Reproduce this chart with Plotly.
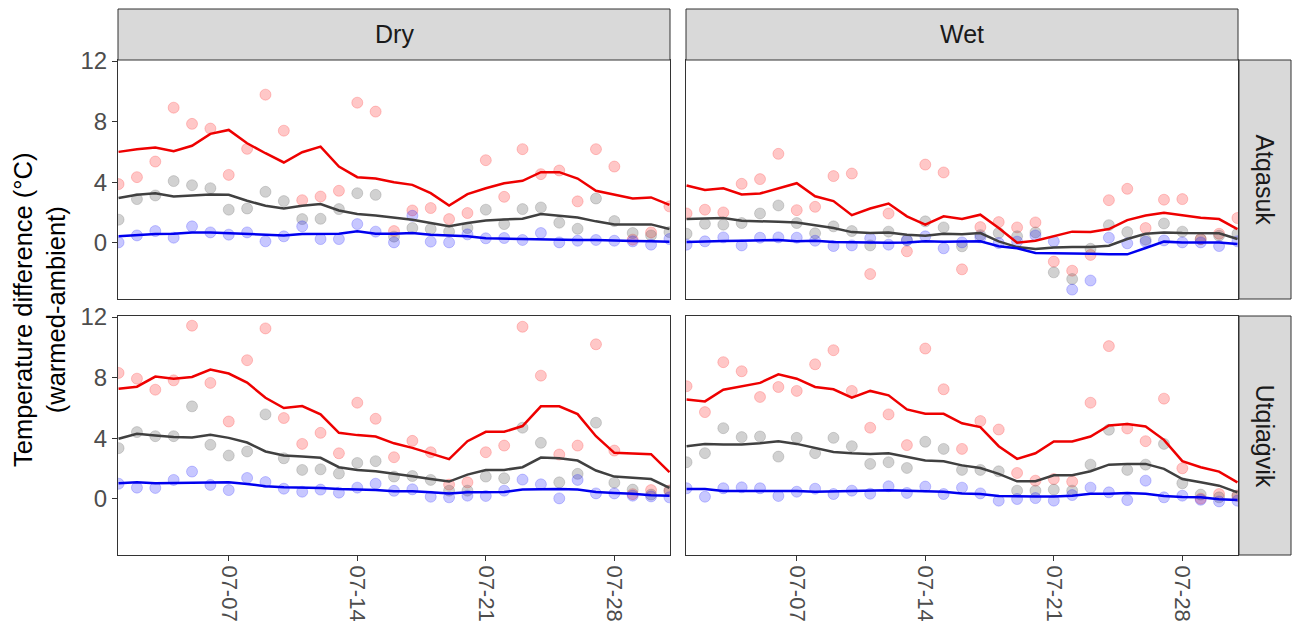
import plotly.graph_objects as go

# ---------------- data ----------------
days = ["2019-07-%02d" % d for d in range(1, 32)]
tick_dates = ["2019-07-07", "2019-07-14", "2019-07-21", "2019-07-28"]
tick_labels = ["07-07", "07-14", "07-21", "07-28"]
y_ticks = [0, 4, 8, 12]
treatments = ["Dry", "Wet"]
sites = ["Atqasuk", "Utqiaġvik"]

# Dry / Atqasuk
dry_atq_red_pts = [3.87, 4.33, 5.36, 8.92, 7.85, 7.54, 4.48, 6.2, 9.78, 7.4, 2.81, 3.05, 3.43, 9.25, 8.66, 0.77,
                   2.13, 2.29, 1.56, 1.96, 5.45, 3.03, 6.18, 4.53, 4.77, 2.73, 6.18, 5.03, 0.2, 0.68, 2.4]
dry_atq_gray_pts = [1.52, 2.88, 3.12, 4.07, 3.80, 3.6, 2.18, 2.26, 3.36, 2.75, 1.56, 1.58, 2.22, 3.27, 3.16, 0.4,
                    0.97, 0.9, 0.73, 0.97, 2.18, 1.23, 2.22, 2.33, 1.32, 0.92, 2.92, 1.43, 0.64, 0.48, 0.7]
dry_atq_blue_pts = [0.02, 0.48, 0.77, 0.33, 1.08, 0.68, 0.53, 0.68, 0.09, 0.42, 1.08, 0.24, 0.24, 1.23, 0.73, 0.02,
                    1.78, 0.07, 0.02, 0.55, 0.29, 0.31, 0.18, 0.64, 0.02, 0.13, 0.18, 0.13, 0.09, -0.13, 0.24]
dry_atq_red_line = [6.0, 6.18, 6.29, 6.04, 6.4, 7.19, 7.45, 6.57, 5.91, 5.3, 5.98, 6.35, 5.03, 4.33, 4.24, 4.0,
                    3.82, 3.27, 2.46, 3.21, 3.6, 3.93, 4.09, 4.66, 4.66, 4.24, 3.43, 3.16, 2.92, 2.99, 2.5]
dry_atq_gray_line = [2.95, 3.16, 3.27, 3.05, 3.12, 3.19, 3.16, 2.77, 2.44, 2.26, 2.44, 2.55, 2.13, 1.89, 1.8, 1.66,
                     1.52, 1.3, 1.08, 1.3, 1.47, 1.54, 1.58, 1.89, 1.78, 1.67, 1.41, 1.21, 1.21, 1.21, 0.9]
dry_atq_blue_line = [0.42, 0.5, 0.57, 0.59, 0.68, 0.68, 0.62, 0.59, 0.5, 0.48, 0.57, 0.57, 0.59, 0.75, 0.59, 0.59,
                     0.64, 0.53, 0.46, 0.42, 0.29, 0.26, 0.26, 0.24, 0.2, 0.18, 0.18, 0.13, 0.11, 0.09, 0.07]

# Wet / Atqasuk
wet_atq_red_pts = [1.93, 2.18, 2.0, 3.89, 4.2, 5.87, 2.15, 2.37, 4.4, 4.57, -2.07, 1.93, -0.57, 5.16, 4.64, -1.76,
                   1.03, 1.36, 1.01, 1.34, -1.25, -1.85, -0.81, 2.81, 3.56, 0.97, 2.84, 2.88, 0.24, 0.59, 1.63]
wet_atq_gray_pts = [0.59, 1.25, 1.19, 1.3, 1.93, 2.46, 1.3, 0.62, 1.08, 0.77, -0.18, 0.73, 0.18, 1.41, 1.01, -0.24,
                    0.5, 0.64, 0.42, 0.68, -1.96, -2.4, -0.4, 1.16, 0.7, 0.2, 1.27, 0.73, 0.24, 0.46, 0.59]
wet_atq_blue_pts = [-0.13, 0.09, 0.35, -0.18, 0.33, 0.35, 0.33, 0.13, -0.22, -0.18, 0.29, -0.13, 0.15, 0.42, -0.37, 0.02,
                    0.35, -0.02, 0.07, 0.48, 0.09, -3.1, -2.5, 0.33, -0.04, 0.07, 0.15, 0.02, 0.02, -0.22, 0.09]
wet_atq_red_line = [3.78, 3.49, 3.6, 3.19, 3.25, 3.58, 3.93, 3.07, 2.75, 1.82, 2.26, 2.59, 1.74, 1.19, 1.74, 1.56,
                    1.85, 0.97, 0.0, 0.13, 0.42, 0.73, 0.7, 0.9, 1.49, 1.8, 1.98, 1.8, 1.65, 1.56, 0.9]
wet_atq_gray_line = [1.56, 1.6, 1.63, 1.45, 1.43, 1.38, 1.34, 1.14, 0.97, 0.7, 0.64, 0.68, 0.53, 0.46, 0.59, 0.55,
                     0.64, 0.09, -0.29, -0.42, -0.31, -0.29, -0.29, -0.2, 0.24, 0.59, 0.68, 0.64, 0.62, 0.62, 0.24]
wet_atq_blue_line = [0.04, 0.09, 0.11, 0.13, 0.15, 0.18, 0.09, 0.13, 0.04, 0.02, 0.0, 0.0, 0.02, 0.09, 0.07, 0.07,
                     0.09, -0.24, -0.37, -0.68, -0.68, -0.73, -0.73, -0.77, -0.77, -0.35, 0.07, 0.02, 0.02, 0.02, -0.09]

# Dry / Utqiagvik
dry_utq_red_pts = [8.31, 7.93, 7.2, 7.82, 11.43, 7.65, 5.1, 9.15, 11.25, 5.33, 3.62, 4.35, 3.0, 6.34, 5.28, 2.74,
                   3.82, 3.07, 0.93, 1.08, 3.07, 3.51, 11.36, 8.13, 2.92, 3.51, 10.2, 3.18, 0.3, 0.57, 0.53]
dry_utq_gray_pts = [3.34, 4.4, 4.13, 4.13, 6.1, 3.56, 2.85, 3.12, 5.57, 2.67, 1.9, 1.94, 1.66, 2.36, 2.48, 1.46,
                    1.5, 1.24, 0.53, 0.53, 1.46, 1.35, 4.69, 3.69, 1.08, 1.64, 5.02, 1.06, 0.6, 0.27, 0.53]
dry_utq_blue_pts = [0.99, 0.73, 0.71, 1.24, 1.79, 0.91, 0.57, 1.37, 1.1, 0.66, 0.46, 0.6, 0.4, 0.73, 0.99, 0.52,
                    0.62, 0.13, 0.09, 0.2, 0.18, 0.53, 1.26, 0.95, 0.02, 1.24, 0.35, 0.35, 0.2, 0.15, 0.09]
dry_utq_red_line = [7.27, 7.4, 8.07, 7.93, 8.04, 8.53, 8.27, 7.67, 6.67, 5.99, 6.12, 5.57, 4.35, 4.2, 4.11, 3.66,
                    3.36, 3.0, 2.61, 3.8, 4.42, 4.42, 4.8, 6.1, 6.1, 5.59, 4.13, 3.03, 3.0, 2.94, 1.75]
dry_utq_gray_line = [3.96, 4.29, 4.18, 4.07, 4.04, 4.22, 4.02, 3.71, 3.12, 2.85, 2.78, 2.7, 2.08, 1.9, 1.81, 1.62,
                     1.48, 1.3, 1.13, 1.59, 1.9, 1.9, 2.08, 2.72, 2.67, 2.52, 1.86, 1.46, 1.39, 1.3, 0.71]
dry_utq_blue_line = [1.02, 1.08, 1.02, 1.04, 1.06, 1.1, 1.08, 0.97, 0.82, 0.75, 0.73, 0.71, 0.64, 0.62, 0.57, 0.5,
                     0.49, 0.42, 0.35, 0.42, 0.42, 0.44, 0.6, 0.64, 0.64, 0.6, 0.44, 0.38, 0.33, 0.22, 0.2]

# Wet / Utqiagvik
wet_utq_red_pts = [7.43, 5.72, 9.02, 8.42, 6.72, 7.38, 7.12, 8.88, 9.81, 7.12, 4.69, 5.57, 3.54, 9.92, 7.23, 3.29,
                   5.13, 4.57, 1.7, 1.19, 1.3, 1.13, 6.34, 10.08, 4.64, 3.8, 6.61, 2.01, 0.0, 0.31, 0.2]
wet_utq_gray_pts = [2.41, 3.01, 4.66, 4.07, 4.11, 2.78, 4.02, 3.01, 4.02, 3.47, 2.3, 2.41, 2.03, 3.76, 3.29, 1.9,
                    1.9, 1.81, 0.53, 0.53, 0.6, 0.53, 2.25, 4.55, 1.9, 2.25, 3.62, 1.02, 0.27, 0.09, 0.2]
wet_utq_blue_pts = [0.69, 0.13, 0.69, 0.75, 0.69, 0.18, 0.46, 0.66, 0.31, 0.53, 0.33, 0.82, 0.38, 0.8, 0.31, 0.73,
                    0.35, -0.13, -0.02, 0.04, -0.13, 0.24, 0.73, 0.42, -0.09, 1.19, 0.09, 0.2, -0.07, -0.18, -0.13]
wet_utq_red_line = [6.56, 6.43, 7.2, 7.43, 7.65, 8.22, 7.93, 7.38, 7.23, 6.67, 7.12, 6.83, 5.9, 5.61, 5.61, 4.98,
                    4.73, 3.47, 2.63, 3.0, 3.78, 3.78, 4.11, 4.84, 4.93, 4.77, 3.89, 2.48, 2.08, 1.79, 1.08]
wet_utq_gray_line = [3.47, 3.62, 3.58, 3.58, 3.67, 3.8, 3.62, 3.34, 3.09, 3.0, 2.96, 3.0, 2.74, 2.52, 2.48, 2.2,
                     2.03, 1.64, 1.15, 1.15, 1.55, 1.55, 1.81, 2.25, 2.3, 2.3, 1.97, 1.3, 1.08, 0.86, 0.42]
wet_utq_blue_line = [0.64, 0.64, 0.51, 0.51, 0.51, 0.51, 0.51, 0.46, 0.49, 0.51, 0.51, 0.55, 0.53, 0.51, 0.46, 0.35,
                     0.31, 0.18, 0.15, 0.15, 0.15, 0.2, 0.33, 0.33, 0.38, 0.33, 0.18, 0.11, 0.09, -0.04, -0.09]

# ---------------- figure ----------------
W, H = 1298, 637
FONT = "Liberation Sans, Arial, sans-serif"

panels = [
    ("", (dry_atq_red_pts, dry_atq_gray_pts, dry_atq_blue_pts), (dry_atq_red_line, dry_atq_gray_line, dry_atq_blue_line)),
    ("2", (wet_atq_red_pts, wet_atq_gray_pts, wet_atq_blue_pts), (wet_atq_red_line, wet_atq_gray_line, wet_atq_blue_line)),
    ("3", (dry_utq_red_pts, dry_utq_gray_pts, dry_utq_blue_pts), (dry_utq_red_line, dry_utq_gray_line, dry_utq_blue_line)),
    ("4", (wet_utq_red_pts, wet_utq_gray_pts, wet_utq_blue_pts), (wet_utq_red_line, wet_utq_gray_line, wet_utq_blue_line)),
]

pt_fill = ["rgba(255,0,0,0.22)", "rgba(85,85,85,0.27)", "rgba(0,0,255,0.22)"]
pt_edge = ["rgba(255,0,0,0.2)", "rgba(85,85,85,0.22)", "rgba(0,0,255,0.2)"]
line_cols = ["#EE0000", "#404040", "#0000EE"]

fig = go.Figure()
for suf, pts, lines in panels:
    xa, ya = "x" + suf, "y" + suf
    for i, vals in enumerate(pts):
        fig.add_trace(go.Scatter(x=days, y=vals, mode="markers", xaxis=xa, yaxis=ya,
                                 marker=dict(size=11, color=pt_fill[i], line=dict(color=pt_edge[i], width=1)),
                                 showlegend=False, hoverinfo="skip"))
    for i, vals in enumerate(lines):
        fig.add_trace(go.Scatter(x=days, y=vals, mode="lines", xaxis=xa, yaxis=ya,
                                 line=dict(color=line_cols[i], width=2.5),
                                 showlegend=False, hoverinfo="skip"))

def px(x):
    return x / W

def py(y):
    return 1 - y / H

dom_dry = [px(118), px(670)]
dom_wet = [px(686), px(1238)]
dom_top = [py(299), py(60)]
dom_bot = [py(555), py(316)]

x_range = ["2019-06-30 23:15", "2019-07-31 00:45"]
y_range = [-3.72, 12.07]

base_ax = dict(showgrid=False, zeroline=False, showline=True, mirror=True,
               linecolor="#333333", linewidth=1, automargin=False)
ytickfont = dict(family=FONT, size=24, color="#4D4D4D")
xtickfont = dict(family=FONT, size=22, color="#4D4D4D")

def xax(dom, anchor, labels):
    d = dict(base_ax, domain=dom, anchor=anchor, type="date", range=x_range,
             tickvals=tick_dates, ticktext=tick_labels)
    if labels:
        d.update(ticks="outside", ticklen=5, tickwidth=1, tickcolor="#333333",
                 showticklabels=True, tickangle=90, tickfont=xtickfont)
    else:
        d.update(ticks="", showticklabels=False)
    return d

def yax(dom, anchor, labels):
    d = dict(base_ax, domain=dom, anchor=anchor, range=y_range, tickvals=y_ticks)
    if labels:
        d.update(ticks="outside", ticklen=5, tickwidth=1, tickcolor="#333333",
                 showticklabels=True, tickfont=ytickfont)
    else:
        d.update(ticks="", showticklabels=False)
    return d

fig.update_layout(
    width=W, height=H,
    margin=dict(l=0, r=0, t=0, b=0, pad=0),
    paper_bgcolor="white", plot_bgcolor="white",
    font=dict(family=FONT),
    xaxis=xax(dom_dry, "y", False),
    xaxis2=xax(dom_wet, "y2", False),
    xaxis3=xax(dom_dry, "y3", True),
    xaxis4=xax(dom_wet, "y4", True),
    yaxis=yax(dom_top, "x", True),
    yaxis2=yax(dom_top, "x2", False),
    yaxis3=yax(dom_bot, "x3", True),
    yaxis4=yax(dom_bot, "x4", False),
)

# strips
strip_style = dict(type="rect", xref="paper", yref="paper", fillcolor="#D9D9D9",
                   line=dict(color="#333333", width=1), layer="above")
top_strip_y = [py(60), py(9)]
right_strip_x = [px(1239), px(1291)]
annotations = []
for name, dom in zip(treatments, [dom_dry, dom_wet]):
    fig.add_shape(x0=dom[0], x1=dom[1], y0=top_strip_y[0], y1=top_strip_y[1], **strip_style)
    annotations.append(dict(x=(dom[0] + dom[1]) / 2, y=(top_strip_y[0] + top_strip_y[1]) / 2,
                            xref="paper", yref="paper", text=name, showarrow=False,
                            xanchor="center", yanchor="middle",
                            font=dict(family=FONT, size=25, color="#1A1A1A")))
for name, dom in zip(sites, [dom_top, dom_bot]):
    fig.add_shape(x0=right_strip_x[0], x1=right_strip_x[1], y0=dom[0], y1=dom[1], **strip_style)
    annotations.append(dict(x=(right_strip_x[0] + right_strip_x[1]) / 2, y=(dom[0] + dom[1]) / 2,
                            xref="paper", yref="paper", text=name, showarrow=False, textangle=90,
                            xanchor="center", yanchor="middle",
                            font=dict(family=FONT, size=25, color="#1A1A1A")))

annotations.append(dict(x=px(39), y=py(310), xref="paper", yref="paper",
                        text="Temperature difference (°C)<br>(warmed-ambient)",
                        showarrow=False, textangle=-90, xanchor="center", yanchor="middle",
                        font=dict(family=FONT, size=25.5, color="black")))
fig.update_layout(annotations=annotations)

fig.write_html("out.html", config={"displayModeBar": False},
               post_script="document.body.style.margin='0';document.body.style.overflow='hidden';")
